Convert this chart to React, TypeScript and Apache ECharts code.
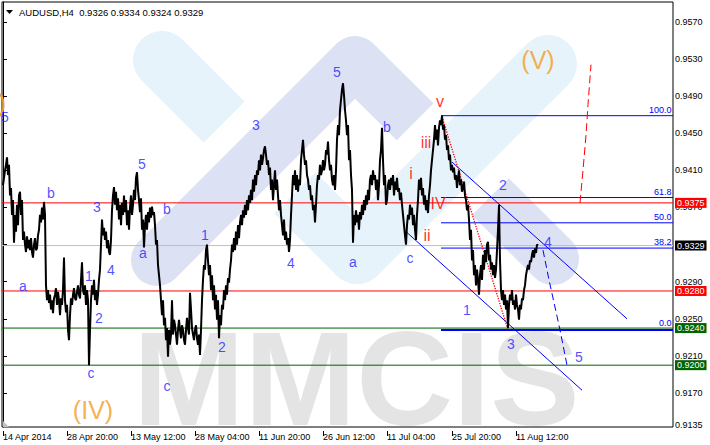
import React, { useEffect, useRef } from "react";
import * as echarts from "echarts";

// AUDUSD H4 closing prices, one per bar (bar 0 = 14 Apr 2014 00:00)
const closes = [
  0.9394,0.9402,0.9410,0.9416,0.9424,0.9405,0.9416,0.9383,0.9391,0.9362,
  0.9378,0.9332,0.9362,0.9344,0.9373,0.9351,0.9383,0.9387,0.9362,0.9378,
  0.9335,0.9344,0.9330,0.9322,0.9339,0.9326,0.9335,0.9324,0.9337,0.9322,
  0.9316,0.9330,0.9337,0.9324,0.9326,0.9340,0.9346,0.9362,0.9354,0.9370,
  0.9357,0.9376,0.9362,0.9286,0.9270,0.9281,0.9267,0.9276,0.9260,0.9270,
  0.9256,0.9272,0.9276,0.9283,0.9265,0.9279,0.9270,0.9254,0.9272,0.9265,
  0.9281,0.9316,0.9270,0.9257,0.9265,0.9238,0.9227,0.9254,0.9272,0.9265,
  0.9276,0.9283,0.9272,0.9270,0.9279,0.9286,0.9276,0.9272,0.9292,0.9311,
  0.9281,0.9276,0.9286,0.9265,0.9281,0.9270,0.9200,0.9238,0.9270,0.9286,
  0.9276,0.9292,0.9270,0.9281,0.9265,0.9276,0.9292,0.9303,0.9330,0.9357,
  0.9340,0.9348,0.9335,0.9344,0.9326,0.9335,0.9322,0.9319,0.9335,0.9367,
  0.9383,0.9392,0.9373,0.9387,0.9367,0.9380,0.9357,0.9373,0.9351,0.9375,
  0.9362,0.9383,0.9365,0.9378,0.9351,0.9367,0.9346,0.9370,0.9383,0.9362,
  0.9373,0.9389,0.9378,0.9402,0.9408,0.9389,0.9378,0.9365,0.9380,0.9346,
  0.9357,0.9327,0.9351,0.9362,0.9346,0.9365,0.9354,0.9370,0.9359,0.9371,
  0.9362,0.9365,0.9351,0.9330,0.9335,0.9308,0.9297,0.9286,0.9270,0.9254,
  0.9270,0.9243,0.9251,0.9227,0.9240,0.9209,0.9238,0.9222,0.9233,0.9270,
  0.9233,0.9249,0.9243,0.9233,0.9222,0.9238,0.9249,0.9238,0.9229,0.9243,
  0.9238,0.9227,0.9222,0.9238,0.9251,0.9240,0.9233,0.9278,0.9260,0.9240,
  0.9233,0.9227,0.9238,0.9243,0.9229,0.9222,0.9233,0.9211,0.9238,0.9270,
  0.9292,0.9308,0.9303,0.9324,0.9330,0.9313,0.9297,0.9308,0.9281,0.9297,
  0.9270,0.9286,0.9260,0.9276,0.9249,0.9270,0.9229,0.9254,0.9243,0.9265,
  0.9260,0.9281,0.9270,0.9286,0.9276,0.9294,0.9289,0.9303,0.9313,0.9330,
  0.9322,0.9337,0.9324,0.9344,0.9330,0.9351,0.9337,0.9354,0.9362,0.9351,
  0.9367,0.9359,0.9373,0.9362,0.9378,0.9367,0.9383,0.9375,0.9389,0.9378,
  0.9400,0.9387,0.9405,0.9394,0.9410,0.9405,0.9421,0.9410,0.9427,0.9416,
  0.9423,0.9432,0.9436,0.9427,0.9416,0.9421,0.9405,0.9413,0.9389,0.9400,
  0.9378,0.9394,0.9410,0.9389,0.9400,0.9383,0.9367,0.9378,0.9362,0.9351,
  0.9340,0.9357,0.9335,0.9344,0.9330,0.9337,0.9322,0.9335,0.9362,0.9383,
  0.9405,0.9394,0.9410,0.9389,0.9405,0.9387,0.9400,0.9394,0.9421,0.9432,
  0.9443,0.9427,0.9416,0.9421,0.9405,0.9400,0.9389,0.9394,0.9378,0.9383,
  0.9367,0.9373,0.9354,0.9373,0.9394,0.9405,0.9400,0.9416,0.9405,0.9410,
  0.9421,0.9410,0.9416,0.9432,0.9427,0.9441,0.9421,0.9410,0.9416,0.9400,
  0.9394,0.9405,0.9389,0.9410,0.9443,0.9459,0.9448,0.9475,0.9486,0.9497,
  0.9504,0.9491,0.9475,0.9464,0.9448,0.9459,0.9421,0.9432,0.9405,0.9389,
  0.9332,0.9362,0.9351,0.9367,0.9354,0.9362,0.9346,0.9365,0.9357,0.9373,
  0.9362,0.9378,0.9367,0.9383,0.9373,0.9389,0.9378,0.9400,0.9405,0.9394,
  0.9410,0.9400,0.9405,0.9389,0.9400,0.9378,0.9394,0.9421,0.9432,0.9456,
  0.9421,0.9394,0.9405,0.9373,0.9378,0.9394,0.9400,0.9389,0.9402,0.9394,
  0.9405,0.9383,0.9398,0.9389,0.9402,0.9387,0.9391,0.9378,0.9386,0.9373,
  0.9362,0.9351,0.9340,0.9330,0.9351,0.9362,0.9357,0.9373,0.9362,0.9370,
  0.9351,0.9362,0.9346,0.9335,0.9362,0.9378,0.9400,0.9389,0.9402,0.9383,
  0.9391,0.9373,0.9383,0.9367,0.9378,0.9364,0.9383,0.9394,0.9410,0.9421,
  0.9432,0.9443,0.9459,0.9443,0.9454,0.9437,0.9456,0.9464,0.9459,0.9469,
  0.9454,0.9459,0.9443,0.9448,0.9432,0.9437,0.9421,0.9427,0.9410,0.9416,
  0.9408,0.9413,0.9400,0.9405,0.9391,0.9402,0.9410,0.9394,0.9400,0.9387,
  0.9391,0.9398,0.9383,0.9378,0.9367,0.9373,0.9357,0.9335,0.9346,0.9313,
  0.9324,0.9297,0.9308,0.9286,0.9303,0.9292,0.9276,0.9297,0.9308,0.9292,
  0.9319,0.9303,0.9324,0.9311,0.9330,0.9333,0.9313,0.9319,0.9303,0.9311,
  0.9297,0.9308,0.9294,0.9303,0.9324,0.9346,0.9373,0.9313,0.9281,0.9270,
  0.9281,0.9265,0.9276,0.9260,0.9270,0.9240,0.9265,0.9276,0.9270,0.9281,
  0.9265,0.9270,0.9260,0.9276,0.9265,0.9260,0.9249,0.9265,0.9260,0.9272,
  0.9270,0.9281,0.9286,0.9297,0.9303,0.9308,0.9303,0.9313,0.9311,0.9319,
  0.9324,0.9316,0.9326,0.9321,0.9330,0.9329,
];

const timeTicks = [0, 64, 128, 192, 256, 320, 384, 449, 513];
const timeLabels = [
  "14 Apr 2014", "28 Apr 20:00", "13 May 12:00", "28 May 04:00", "11 Jun 20:00",
  "26 Jun 12:00", "11 Jul 04:00", "25 Jul 20:00", "11 Aug 12:00",
];
const priceTicks = [0.957, 0.953, 0.949, 0.945, 0.941, 0.937, 0.933, 0.929, 0.925, 0.921, 0.917, 0.9135];

const redLevels = [0.9375, 0.928];
const greenLevels = [0.924, 0.92];
const lastPrice = 0.9329;

const fiboStartBar = 438;
const fiboHigh = 0.9469;
const fiboLow = 0.9238;
const fiboRatios = [100.0, 61.8, 50.0, 38.2, 0.0];

const upperChannel = [[449, 0.9419], [624, 0.925]];
const lowerChannel = [[404, 0.9343], [579, 0.9173]];
const wave3Path = [[439, 0.9468], [505, 0.9238]];
const waveVProjection = [[577, 0.9375], [580, 0.941], [583, 0.9448], [585, 0.9481], [588, 0.9524]];
const wave5Projection = [[540, 0.9324], [546, 0.9292], [557, 0.9238], [564, 0.92]];

const blueWaves = [
  [2, 0.9468, "5"], [48, 0.9386, "b"], [20, 0.9285, "a"], [94, 0.9371, "3"], [86, 0.9296, "1"],
  [108, 0.9303, "4"], [96, 0.9251, "2"], [88, 0.9192, "c"], [139, 0.9417, "5"], [164, 0.9368, "b"],
  [140, 0.9321, "a"], [164, 0.9178, "c"], [202, 0.934, "1"], [219, 0.922, "2"], [253, 0.9459, "3"],
  [288, 0.931, "4"], [334, 0.9516, "5"], [350, 0.9311, "a"], [384, 0.9457, "b"], [407, 0.9316, "c"],
  [464, 0.926, "1"], [500, 0.9394, "2"], [508, 0.9223, "3"], [545, 0.9333, "4"], [576, 0.9209, "5"],
];
const redWaves = [
  [437, 0.9484, "v"], [423, 0.944, "iii"], [408, 0.9407, "i"], [435, 0.9374, "IV"], [424, 0.934, "ii"],
];
const orangeWaves = [[90, 0.9152, "(IV)"], [535, 0.9529, "(V)"]];

const FONT = '"Liberation Sans", Arial, sans-serif';
const CYAN = "#e6f3fa";
const LAV = "#dce2f4";

export default function App() {
  const ref = useRef<HTMLDivElement>(null);
  useEffect(() => {
    document.body.style.margin = "0";
    const chart = echarts.init(ref.current!, null, { renderer: "svg" });

    const levelSeries = (v: number, line: string, bg: string) => ({
      type: "line",
      data: [[-1, v], [670, v]],
      symbol: "none",
      silent: true,
      z: 3,
      lineStyle: { color: line, width: 1 },
      endLabel: {
        show: true, distance: 2, formatter: () => v.toFixed(4),
        backgroundColor: bg, color: "#fff", padding: [1, 2, 0, 2], fontSize: 9, fontFamily: FONT,
      },
    });
    const fiboSeries = fiboRatios.map((r) => {
      const p = fiboLow + (r / 100) * (fiboHigh - fiboLow);
      return {
        type: "line",
        data: [[fiboStartBar, p], [670, p]],
        symbol: "none",
        silent: true,
        z: 3,
        lineStyle: { color: "#0000ff", width: r === 0 ? 2 : 1 },
        markPoint: {
          symbol: "rect", symbolSize: 1, silent: true,
          itemStyle: { color: "rgba(0,0,0,0)" },
          data: [{ coord: [669, p] }],
          label: {
            show: true, position: [0, r === 0 ? -2 : -1], formatter: r.toFixed(1),
            align: "right", verticalAlign: "bottom",
            color: "#0000ff", fontSize: 9, fontFamily: FONT,
          },
        },
      };
    });

    const labelSeries = (data: any[], color: string, size: number) => ({
      type: "scatter",
      data,
      symbolSize: 1,
      itemStyle: { color: "rgba(0,0,0,0)" },
      clip: false,
      silent: true,
      z: 10,
      label: {
        show: true, position: "inside", formatter: (p: any) => p.value[2],
        color, fontSize: size, fontFamily: FONT,
      },
    });
    const guide = (data: number[][], color: string, type: any, width = 1) => ({
      type: "line", data, symbol: "none", silent: true, z: 4,
      lineStyle: { color, width, type },
    });

    const option: any = {
      animation: false,
      backgroundColor: "#fff",
      grid: { left: 2, right: 37, top: 2, bottom: 18, show: true, borderColor: "#000", borderWidth: 1 },
      xAxis: {
        type: "value", min: -1, max: 670, offset: 4,
        axisLine: { show: false }, splitLine: { show: false },
        axisTick: { show: true, customValues: timeTicks, length: 5, lineStyle: { color: "#000" } },
        axisLabel: {
          customValues: timeTicks, formatter: (v: number) => timeLabels[timeTicks.indexOf(v)] ?? "",
          align: "left", margin: 1, fontSize: 9, color: "#000", fontFamily: FONT,
        },
      },
      yAxis: {
        type: "value", position: "right", min: 0.913334, max: 0.959156,
        axisLine: { show: true, lineStyle: { color: "#000" } },
        splitLine: { show: false },
        axisTick: { show: true, customValues: priceTicks, length: 4, lineStyle: { color: "#000" } },
        axisLabel: {
          customValues: priceTicks, formatter: (v: number) => v.toFixed(4),
          margin: 2, fontSize: 9, color: "#000", fontFamily: FONT,
        },
      },
      graphic: [
        // watermark logo: cyan "V" and lavender "Λ" ribbons, interlaced
        { type: "polyline", z: 0, shape: { points: [[162, 60], [357, 255]] },
          style: { stroke: CYAN, lineWidth: 58, lineCap: "round", fill: null } },
        { type: "polyline", z: 0, shape: { points: [[231, 186], [288, 129]] },
          style: { stroke: "#fff", lineWidth: 100, lineCap: "butt", fill: null } },
        { type: "polyline", z: 0, shape: { points: [[157, 260], [355, 62], [553, 259]] },
          style: { stroke: LAV, lineWidth: 52, lineCap: "round", lineJoin: "round", fill: null } },
        { type: "polyline", z: 0, shape: { points: [[425, 187], [481, 131]] },
          style: { stroke: "#fff", lineWidth: 106, lineCap: "butt", fill: null } },
        { type: "polyline", z: 0, shape: { points: [[357, 255], [548, 64]] },
          style: { stroke: CYAN, lineWidth: 58, lineCap: "round", fill: null } },
        { type: "text", z: 0, x: 133, y: 378,
          style: { text: "MMCIS", font: 'bold 134px "Liberation Sans"', fill: "#e4e4e4", textVerticalAlign: "middle" } },
        { type: "text", z: 1, x: 6, y: 103,
          style: { text: "(III)", font: '25px "Liberation Sans"', fill: "#f39c1f", textAlign: "right", textVerticalAlign: "middle" } },
        { type: "polygon", z: 20, shape: { points: [[6, 10], [13, 10], [9.5, 14]] }, style: { fill: "#000" } },
        { type: "text", z: 20, x: 19, y: 12,
          style: { text: "AUDUSD,H4  0.9326 0.9334 0.9324 0.9329", font: '9.5px "Liberation Sans"', fill: "#000", textVerticalAlign: "middle" } },
        { type: "polygon", z: 20, shape: { points: [[3, 421], [3, 427], [9, 427]] }, style: { fill: "#c0c0c0" } },
      ],
      series: [
        {
          type: "line",
          data: closes.map((c, i) => [i, c]),
          symbol: "none",
          silent: true,
          z: 5,
          lineStyle: { color: "#000", width: 2 },
        },
        levelSeries(lastPrice, "#c0c0c0", "#000"),
        ...redLevels.map((v) => levelSeries(v, "#ff0000", "#ff0000")),
        ...greenLevels.map((v) => levelSeries(v, "#006400", "#006400")),
        ...fiboSeries,
        guide(upperChannel, "#0000ff", "solid"),
        guide(lowerChannel, "#0000ff", "solid"),
        guide(wave3Path, "#ff0000", "dotted", 1.3),
        guide(waveVProjection, "#ff0000", [8, 4]),
        guide(wave5Projection, "#0000ff", [7, 4]),
        labelSeries(blueWaves, "#1f1fff", 14),
        labelSeries(redWaves, "#ff0000", 16),
        labelSeries(orangeWaves, "#f39c1f", 25),
      ],
    };
    chart.setOption(option);
    return () => chart.dispose();
  }, []);
  return <div ref={ref} style={{ width: 710, height: 445 }} />;
}
